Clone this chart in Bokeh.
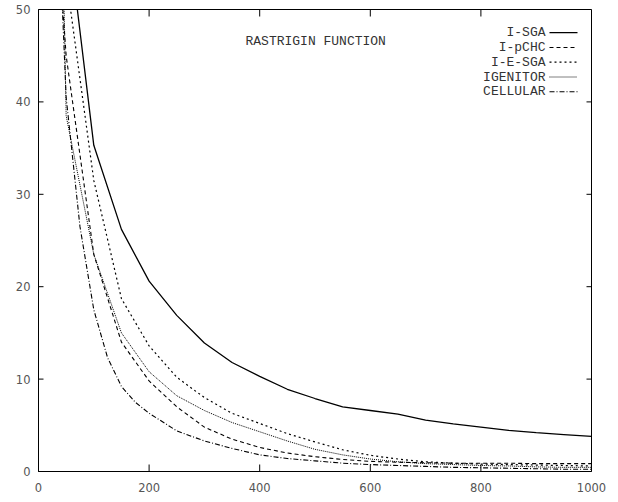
from bokeh.plotting import figure
from bokeh.models import Range1d, FixedTicker, Label
from bokeh.embed import file_html
from bokeh.resources import INLINE

# ---- data ----
generations = [0, 50, 100, 150, 200, 250, 300, 350, 400, 450, 500,
               550, 600, 650, 700, 750, 800, 850, 900, 950, 1000]
i_sga = [150, 60.0, 35.3, 26.2, 20.6, 16.9, 13.9, 11.8, 10.3, 8.9, 7.9,
         7.0, 6.6, 6.2, 5.55, 5.15, 4.8, 4.45, 4.2, 4.0, 3.8]
i_pchc = [87, 45.0, 23.5, 14.0, 9.8, 7.0, 4.8, 3.5, 2.6, 2.0, 1.6,
          1.3, 1.1, 1.0, 0.95, 0.9, 0.9, 0.9, 0.85, 0.85, 0.85]
i_e_sga = [120, 53.5, 31.5, 18.7, 13.6, 10.2, 8.0, 6.3, 5.2, 4.1, 3.2,
           2.35, 1.75, 1.35, 1.05, 0.9, 0.8, 0.75, 0.7, 0.65, 0.6]
igenitor = [200, 38.5, 23.5, 15.0, 10.8, 8.2, 6.6, 5.3, 4.3, 3.3, 2.4,
            1.8, 1.35, 1.05, 0.85, 0.75, 0.65, 0.6, 0.5, 0.45, 0.45]
cellular_gen = [0, 50, 75, 100, 125, 150, 175, 200, 250, 300, 350, 400, 450, 500,
                550, 600, 650, 700, 750, 800, 850, 900, 950, 1000]
cellular = [111, 40.5, 26.5, 17.5, 12.3, 9.2, 7.5, 6.3, 4.4, 3.3, 2.5, 1.8, 1.4, 1.15,
            0.9, 0.75, 0.65, 0.55, 0.45, 0.4, 0.35, 0.3, 0.25, 0.25]

series_names = ["I-SGA", "I-pCHC", "I-E-SGA", "IGENITOR", "CELLULAR"]
series_x = [generations, generations, generations, generations, cellular_gen]
series_values = [i_sga, i_pchc, i_e_sga, igenitor, cellular]
x_ticks = [0, 200, 400, 600, 800, 1000]
y_ticks = [0, 10, 20, 30, 40, 50]
title_text = "RASTRIGIN FUNCTION"

# ---- styles ----
dashes = ["solid", "4 3", "2 3", "1 1", "5 2 1 2"]
widths = [1.3, 1.1, 1.2, 1.0, 1.1]

W, H = 610, 496
ML, MR, MT, MB = 38, 19, 9, 25
X0, X1, Y0, Y1 = 0, 1000, 0, 50

p = figure(width=W, height=H, x_range=Range1d(X0, X1), y_range=Range1d(Y0, Y1),
           output_backend="svg", toolbar_location=None,
           min_border_left=ML, min_border_right=MR,
           min_border_top=MT, min_border_bottom=MB)
p.grid.visible = False
p.outline_line_color = "black"
p.outline_line_width = 1
p.background_fill_color = "white"
p.border_fill_color = "white"

tick_font = "DejaVu Sans"
tick_color = "#555555"

xa = p.xaxis[0]
xa.ticker = FixedTicker(ticks=x_ticks)
xa.major_tick_in = 0
xa.major_tick_out = 0
xa.minor_tick_line_color = None
xa.major_label_standoff = 11
xa.major_label_text_font = tick_font
xa.major_label_text_font_size = "11.5px"
xa.major_label_text_color = tick_color
xa.axis_line_color = "black"

ya = p.yaxis[0]
ya.ticker = FixedTicker(ticks=y_ticks)
ya.major_tick_in = 0
ya.major_tick_out = 0
ya.minor_tick_line_color = None
ya.major_label_standoff = 8
ya.major_label_text_font = tick_font
ya.major_label_text_font_size = "11.5px"
ya.major_label_text_color = tick_color
ya.axis_line_color = "black"

frame_w = W - ML - MR
frame_h = H - MT - MB


def fx(px):  # canvas px -> data x
    return X0 + (px - ML) / frame_w * (X1 - X0)


def fy(py):  # canvas py -> data y
    return Y0 + (MT + frame_h - py) / frame_h * (Y1 - Y0)


# inward tick marks on all four sides (mirrored, gnuplot style)
tx = 7 / frame_h * (Y1 - Y0)   # length of x ticks in data units
ty = 5 / frame_w * (X1 - X0)   # length of y ticks in data units
p.segment(x0=x_ticks, y0=[Y0] * len(x_ticks), x1=x_ticks, y1=[Y0 + tx] * len(x_ticks),
          line_color="black", line_width=1)
p.segment(x0=x_ticks, y0=[Y1] * len(x_ticks), x1=x_ticks, y1=[Y1 - tx] * len(x_ticks),
          line_color="black", line_width=1)
p.segment(x0=[X0] * len(y_ticks), y0=y_ticks, x1=[X0 + ty] * len(y_ticks), y1=y_ticks,
          line_color="black", line_width=1)
p.segment(x0=[X1] * len(y_ticks), y0=y_ticks, x1=[X1 - ty] * len(y_ticks), y1=y_ticks,
          line_color="black", line_width=1)

for name, xs, vals, dash, lw in zip(series_names, series_x, series_values, dashes, widths):
    p.line(xs, vals, line_color="black", line_width=lw, line_dash=dash)

mono = "Liberation Mono"
p.add_layout(Label(x=fx(245), y=fy(41), text=title_text, text_font=mono,
                   text_font_size="13px", text_color="#333333",
                   text_baseline="middle", text_align="left"))

row_py = [32.2, 47.0, 61.7, 76.5, 91.2]
for name, dash, lw, py in zip(series_names, dashes, widths, row_py):
    p.add_layout(Label(x=fx(545), y=fy(py), text=name, text_font=mono,
                       text_font_size="13px", text_color="#333333",
                       text_baseline="middle", text_align="right"))
    p.segment(x0=[fx(549)], y0=[fy(py)], x1=[fx(577)], y1=[fy(py)],
              line_color="black", line_width=lw, line_dash=dash)

open("out.html", "w").write(file_html(p, INLINE))
